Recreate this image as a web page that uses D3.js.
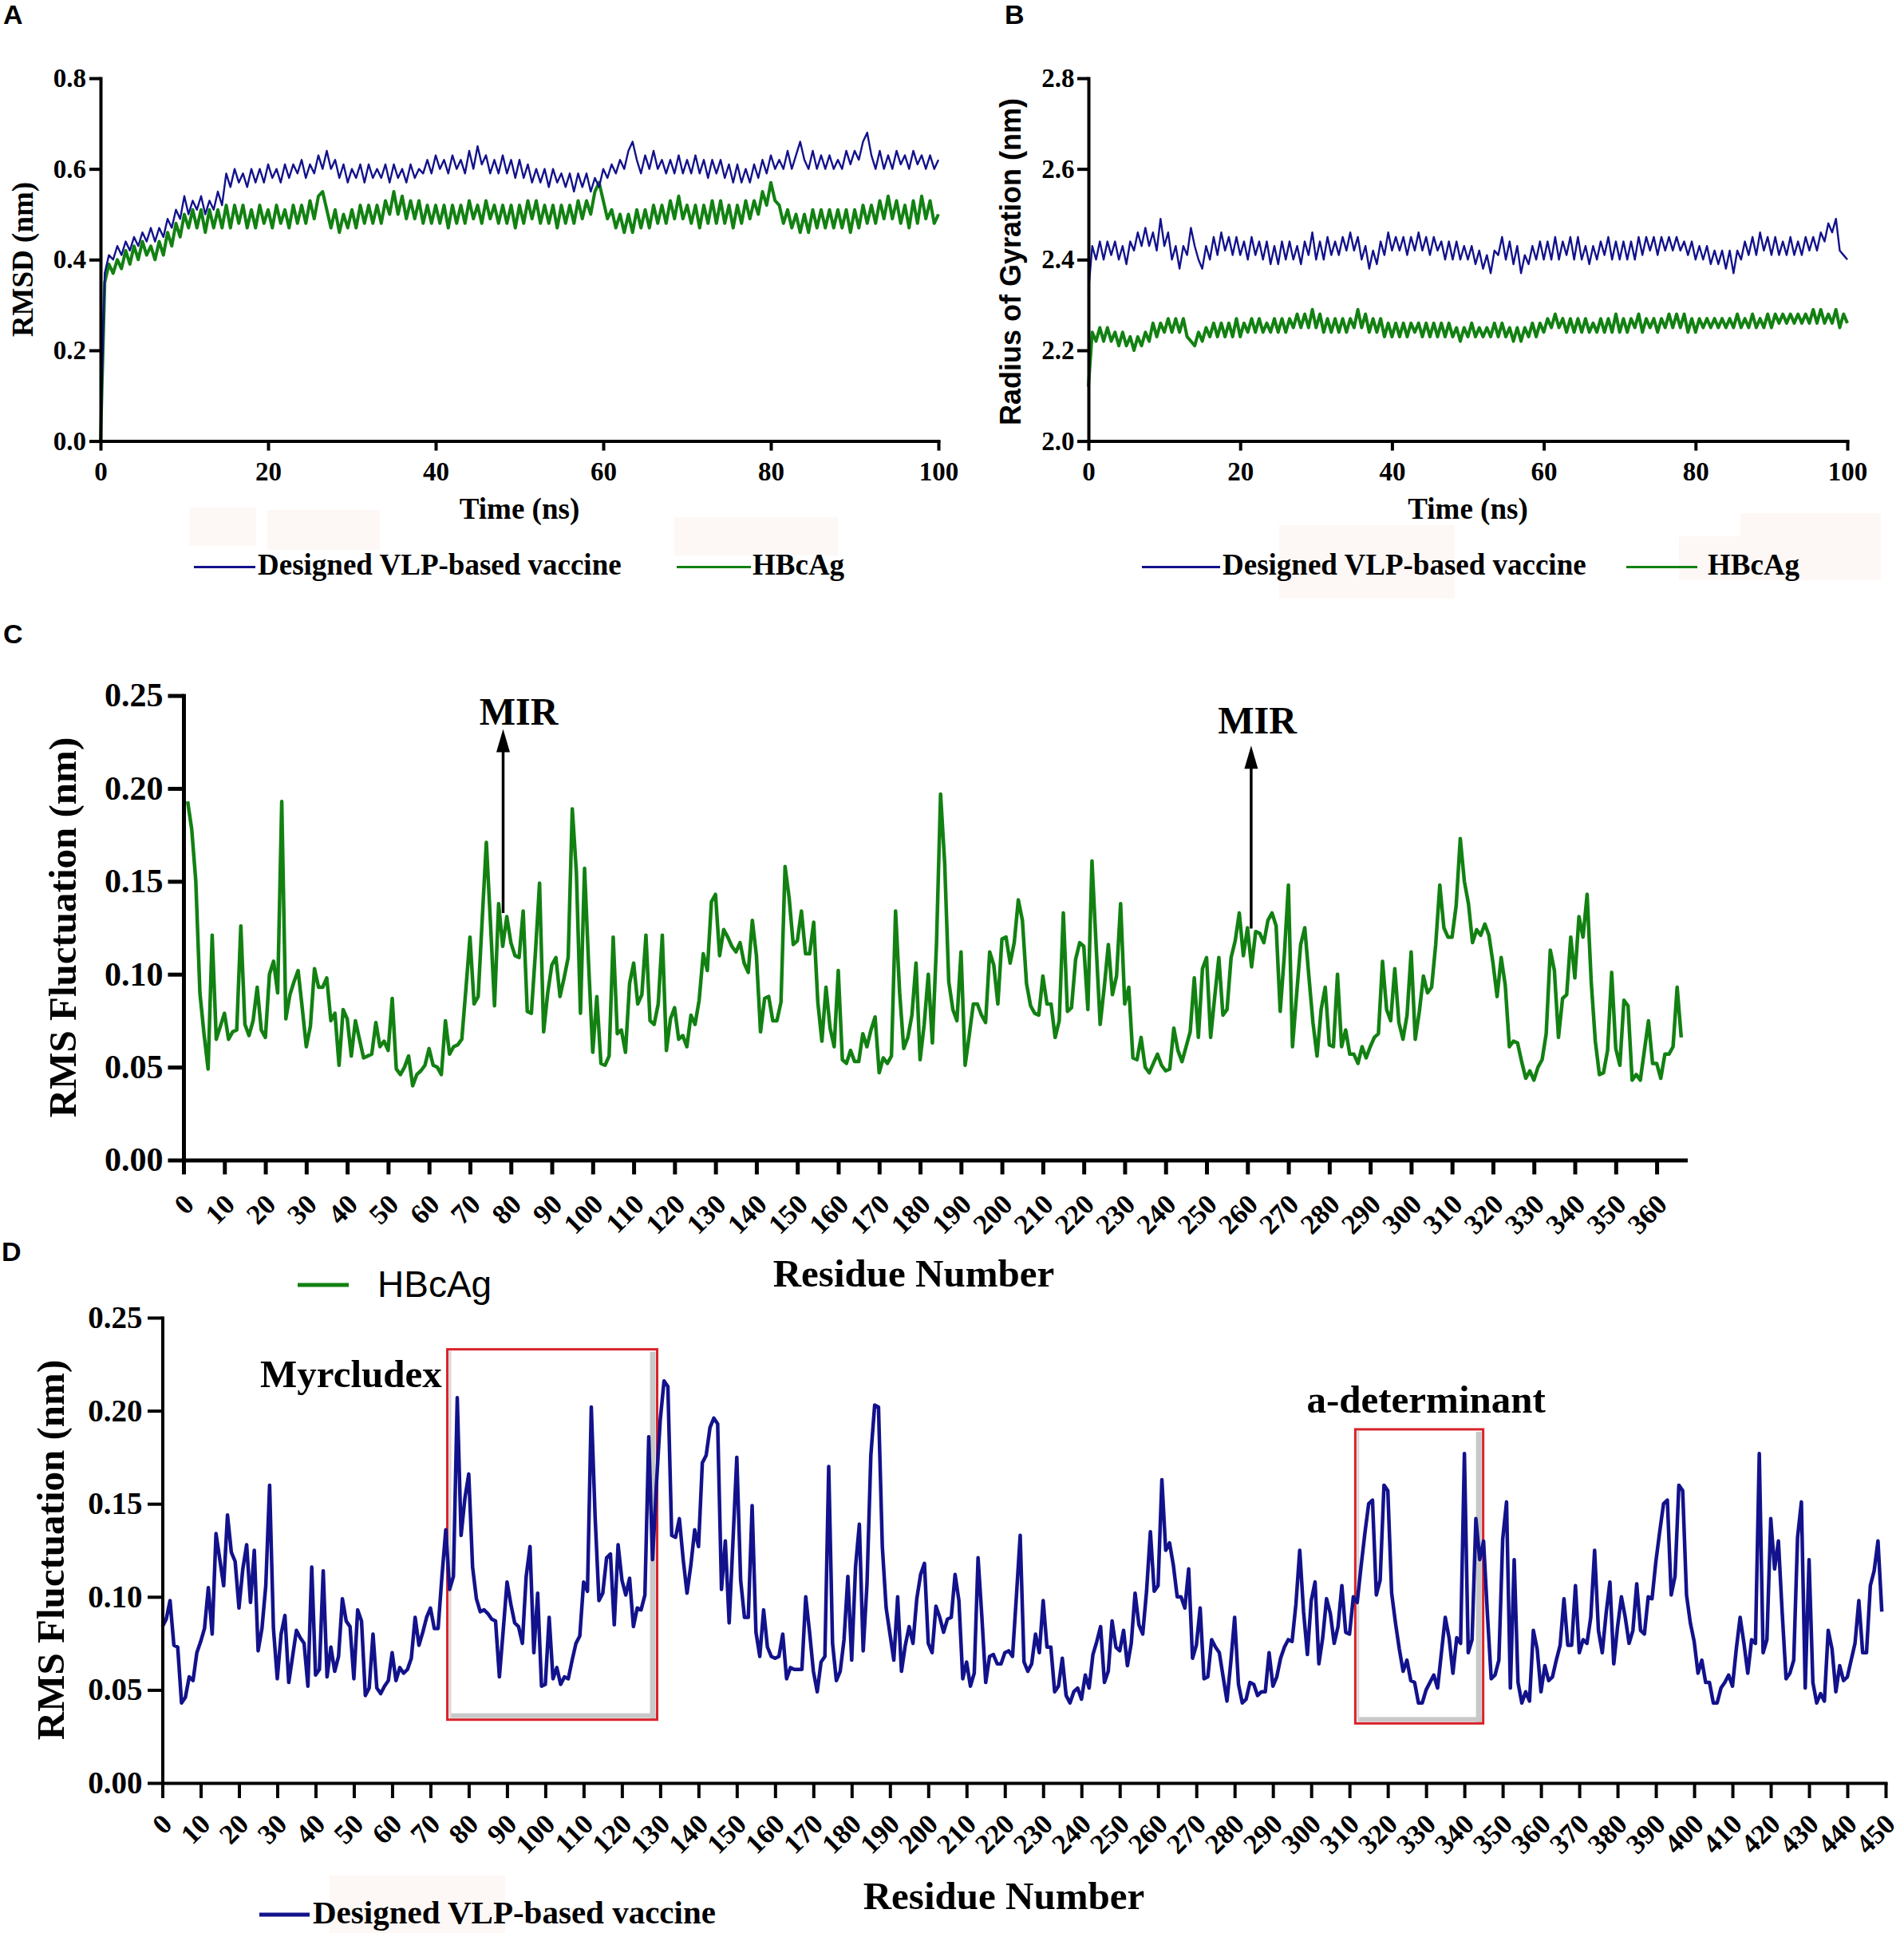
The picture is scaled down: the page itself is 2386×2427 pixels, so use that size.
<!DOCTYPE html>
<html><head><meta charset="utf-8">
<script src="https://cdn.jsdelivr.net/npm/d3@7"></script>
<style>html,body{margin:0;padding:0;background:#fff}svg{display:block}</style>
</head><body>
<svg id="fig" width="2386" height="2427"></svg>
<script>
// ---------------- DATA ----------------
const TIME_STEP_NS = 0.5; // sampling of the values read below (t = 0 ... 100 ns)
const timeTicks = [0, 20, 40, 60, 80, 100];
const rmsdTicks = [0.0, 0.2, 0.4, 0.6, 0.8];
const rgTicks = [2.0, 2.2, 2.4, 2.6, 2.8];
const rmsfTicks = [0.00, 0.05, 0.10, 0.15, 0.20, 0.25];
const residueTicksC = [0,10,20,30,40,50,60,70,80,90,100,110,120,130,140,150,160,170,180,190,200,210,220,230,240,250,260,270,280,290,300,310,320,330,340,350,360];
const residueTicksD = [0,10,20,30,40,50,60,70,80,90,100,110,120,130,140,150,160,170,180,190,200,210,220,230,240,250,260,270,280,290,300,310,320,330,340,350,360,370,380,390,400,410,420,430,440,450];
const seriesNames = ["Designed VLP-based vaccine", "HBcAg"];

const rmsdVaccine = [
0.00,0.37,0.41,0.40,0.43,0.41,0.44,0.42,0.45,0.43,
0.46,0.44,0.47,0.44,0.47,0.45,0.49,0.47,0.51,0.49,
0.54,0.50,0.53,0.51,0.54,0.50,0.53,0.51,0.55,0.52,
0.59,0.56,0.60,0.57,0.59,0.56,0.60,0.57,0.60,0.57,
0.61,0.58,0.60,0.57,0.61,0.58,0.61,0.59,0.62,0.58,
0.61,0.59,0.63,0.60,0.64,0.60,0.62,0.58,0.61,0.57,
0.60,0.58,0.61,0.57,0.61,0.58,0.60,0.58,0.61,0.57,
0.61,0.58,0.60,0.57,0.61,0.58,0.60,0.59,0.62,0.59,
0.63,0.60,0.62,0.59,0.63,0.60,0.62,0.59,0.64,0.60,
0.65,0.61,0.63,0.59,0.62,0.59,0.63,0.59,0.62,0.58,
0.62,0.58,0.61,0.57,0.60,0.57,0.60,0.56,0.60,0.57,
0.59,0.56,0.59,0.55,0.59,0.56,0.59,0.55,0.58,0.56,
0.60,0.58,0.61,0.59,0.62,0.60,0.64,0.66,0.62,0.59,
0.63,0.60,0.64,0.60,0.62,0.59,0.62,0.59,0.63,0.59,
0.62,0.59,0.63,0.59,0.62,0.58,0.62,0.59,0.62,0.58,
0.61,0.57,0.61,0.57,0.60,0.57,0.61,0.58,0.62,0.59,
0.63,0.60,0.62,0.60,0.64,0.60,0.63,0.66,0.62,0.60,
0.64,0.60,0.63,0.60,0.63,0.60,0.62,0.60,0.64,0.61,
0.64,0.62,0.66,0.68,0.63,0.60,0.64,0.60,0.63,0.60,
0.64,0.61,0.63,0.60,0.64,0.61,0.63,0.60,0.63,0.60,
0.62];

const rmsdHBcAg = [
0.00,0.35,0.39,0.37,0.40,0.38,0.42,0.39,0.43,0.40,
0.44,0.41,0.43,0.40,0.44,0.41,0.46,0.43,0.48,0.45,
0.50,0.47,0.51,0.47,0.51,0.46,0.51,0.47,0.51,0.47,
0.52,0.47,0.52,0.48,0.52,0.47,0.51,0.47,0.52,0.48,
0.51,0.47,0.52,0.48,0.51,0.47,0.52,0.48,0.52,0.48,
0.53,0.49,0.54,0.55,0.51,0.47,0.51,0.46,0.50,0.47,
0.51,0.47,0.52,0.48,0.52,0.48,0.52,0.48,0.53,0.50,
0.55,0.50,0.54,0.49,0.53,0.49,0.53,0.48,0.52,0.48,
0.52,0.48,0.52,0.47,0.52,0.48,0.52,0.48,0.53,0.49,
0.52,0.48,0.53,0.49,0.52,0.48,0.52,0.48,0.52,0.47,
0.52,0.48,0.53,0.49,0.53,0.48,0.52,0.48,0.52,0.47,
0.52,0.48,0.52,0.48,0.53,0.49,0.53,0.50,0.55,0.57,
0.53,0.49,0.51,0.47,0.50,0.46,0.50,0.46,0.51,0.47,
0.51,0.47,0.52,0.48,0.52,0.48,0.53,0.49,0.54,0.49,
0.52,0.48,0.52,0.47,0.52,0.48,0.53,0.48,0.53,0.48,
0.52,0.47,0.52,0.48,0.53,0.49,0.53,0.50,0.55,0.52,
0.57,0.53,0.52,0.48,0.51,0.47,0.50,0.46,0.50,0.46,
0.51,0.47,0.51,0.47,0.51,0.47,0.51,0.47,0.51,0.46,
0.51,0.47,0.52,0.48,0.52,0.48,0.53,0.49,0.54,0.49,
0.53,0.48,0.52,0.47,0.53,0.48,0.54,0.49,0.53,0.48,
0.50];

const rgVaccine = [
2.33,2.43,2.40,2.44,2.40,2.44,2.41,2.44,2.40,2.43,
2.39,2.44,2.42,2.46,2.43,2.47,2.43,2.46,2.42,2.49,
2.43,2.46,2.40,2.43,2.38,2.43,2.41,2.47,2.43,2.40,
2.38,2.43,2.40,2.45,2.41,2.46,2.42,2.45,2.41,2.45,
2.41,2.44,2.40,2.45,2.41,2.44,2.40,2.44,2.39,2.43,
2.39,2.44,2.40,2.44,2.40,2.43,2.39,2.44,2.41,2.46,
2.40,2.44,2.40,2.45,2.41,2.44,2.41,2.45,2.42,2.46,
2.42,2.45,2.40,2.43,2.38,2.42,2.39,2.44,2.41,2.46,
2.42,2.45,2.42,2.45,2.41,2.45,2.42,2.46,2.42,2.45,
2.41,2.45,2.42,2.44,2.40,2.44,2.40,2.44,2.40,2.43,
2.40,2.43,2.39,2.42,2.38,2.41,2.37,2.42,2.41,2.45,
2.40,2.44,2.39,2.43,2.37,2.41,2.39,2.43,2.40,2.44,
2.40,2.44,2.40,2.45,2.40,2.44,2.41,2.45,2.40,2.45,
2.40,2.43,2.39,2.43,2.40,2.44,2.41,2.45,2.40,2.44,
2.40,2.44,2.40,2.44,2.40,2.45,2.41,2.45,2.42,2.45,
2.41,2.45,2.42,2.45,2.42,2.45,2.42,2.44,2.41,2.44,
2.40,2.43,2.40,2.43,2.39,2.42,2.39,2.42,2.38,2.42,
2.37,2.42,2.40,2.44,2.41,2.45,2.41,2.46,2.42,2.45,
2.41,2.45,2.41,2.44,2.41,2.45,2.41,2.44,2.41,2.45,
2.42,2.45,2.42,2.46,2.44,2.48,2.46,2.49,2.42,2.41,
2.40];

const rgHBcAg = [
2.12,2.24,2.22,2.25,2.22,2.25,2.22,2.24,2.21,2.24,
2.21,2.23,2.20,2.23,2.21,2.24,2.22,2.26,2.23,2.26,
2.24,2.27,2.24,2.27,2.24,2.27,2.23,2.22,2.21,2.24,
2.22,2.25,2.23,2.26,2.23,2.26,2.23,2.26,2.23,2.27,
2.23,2.26,2.24,2.27,2.24,2.27,2.24,2.26,2.24,2.27,
2.24,2.27,2.24,2.27,2.25,2.28,2.25,2.28,2.25,2.29,
2.25,2.28,2.24,2.27,2.24,2.27,2.24,2.27,2.24,2.27,
2.25,2.29,2.25,2.28,2.24,2.27,2.24,2.27,2.23,2.26,
2.23,2.26,2.23,2.26,2.23,2.26,2.24,2.26,2.23,2.26,
2.23,2.26,2.23,2.26,2.23,2.26,2.23,2.25,2.22,2.25,
2.23,2.26,2.23,2.25,2.23,2.25,2.23,2.26,2.23,2.26,
2.23,2.25,2.22,2.25,2.22,2.25,2.23,2.26,2.23,2.26,
2.24,2.27,2.25,2.28,2.25,2.27,2.24,2.27,2.24,2.27,
2.24,2.27,2.24,2.26,2.24,2.27,2.24,2.27,2.24,2.28,
2.24,2.27,2.24,2.27,2.25,2.28,2.24,2.27,2.25,2.27,
2.24,2.27,2.25,2.28,2.25,2.28,2.25,2.28,2.24,2.27,
2.24,2.27,2.25,2.27,2.25,2.27,2.25,2.27,2.25,2.27,
2.25,2.28,2.25,2.27,2.25,2.28,2.25,2.27,2.25,2.28,
2.25,2.28,2.26,2.28,2.26,2.28,2.26,2.28,2.26,2.28,
2.26,2.29,2.26,2.29,2.26,2.28,2.26,2.29,2.25,2.28,
2.26];

const RMSF_HBCAG_FIRST_RESIDUE = 1;
const rmsfHBcAg = [
0.193,0.178,0.150,0.090,0.068,0.049,0.121,0.065,0.072,0.079,
0.065,0.069,0.070,0.126,0.073,0.067,0.075,0.093,0.070,0.066,
0.100,0.107,0.090,0.193,0.076,0.089,0.096,0.102,0.082,0.061,
0.072,0.103,0.093,0.093,0.098,0.075,0.079,0.051,0.081,0.076,
0.056,0.075,0.065,0.055,0.056,0.057,0.074,0.061,0.064,0.059,
0.087,0.049,0.046,0.050,0.056,0.040,0.046,0.048,0.051,0.060,
0.051,0.050,0.046,0.075,0.057,0.061,0.062,0.065,0.092,0.120,
0.084,0.088,0.130,0.171,0.128,0.083,0.138,0.115,0.131,0.117,
0.110,0.109,0.134,0.080,0.079,0.112,0.149,0.069,0.090,0.105,
0.109,0.088,0.098,0.109,0.189,0.155,0.079,0.157,0.105,0.058,
0.088,0.052,0.051,0.056,0.120,0.068,0.070,0.058,0.095,0.106,
0.084,0.089,0.121,0.075,0.073,0.084,0.121,0.059,0.076,0.082,
0.065,0.067,0.061,0.078,0.073,0.086,0.111,0.102,0.139,0.143,
0.110,0.124,0.120,0.115,0.112,0.117,0.106,0.101,0.129,0.110,
0.069,0.087,0.088,0.075,0.075,0.085,0.158,0.141,0.116,0.118,
0.134,0.111,0.111,0.128,0.085,0.064,0.093,0.071,0.061,0.102,
0.054,0.052,0.059,0.053,0.053,0.068,0.061,0.070,0.077,0.047,
0.055,0.052,0.056,0.134,0.090,0.060,0.066,0.078,0.106,0.054,
0.073,0.100,0.063,0.116,0.197,0.160,0.096,0.081,0.075,0.112,
0.051,0.067,0.084,0.084,0.078,0.074,0.112,0.105,0.084,0.119,
0.120,0.106,0.117,0.140,0.129,0.095,0.083,0.079,0.078,0.099,
0.084,0.084,0.066,0.075,0.133,0.080,0.082,0.108,0.117,0.115,
0.081,0.161,0.116,0.073,0.093,0.116,0.089,0.099,0.138,0.084,
0.093,0.055,0.054,0.066,0.050,0.047,0.052,0.057,0.051,0.048,
0.049,0.071,0.059,0.053,0.061,0.069,0.098,0.066,0.103,0.109,
0.066,0.088,0.109,0.078,0.081,0.109,0.118,0.133,0.110,0.125,
0.104,0.123,0.122,0.117,0.129,0.133,0.126,0.080,0.110,0.148,
0.061,0.089,0.116,0.125,0.099,0.074,0.056,0.081,0.093,0.062,
0.061,0.100,0.061,0.070,0.057,0.057,0.052,0.061,0.055,0.061,
0.066,0.068,0.107,0.081,0.075,0.103,0.074,0.065,0.078,0.112,
0.065,0.080,0.099,0.090,0.093,0.116,0.148,0.125,0.120,0.120,
0.137,0.173,0.150,0.138,0.117,0.124,0.121,0.127,0.121,0.106,
0.088,0.109,0.094,0.061,0.064,0.063,0.053,0.044,0.048,0.043,
0.050,0.054,0.068,0.113,0.102,0.066,0.087,0.089,0.120,0.098,
0.131,0.120,0.143,0.096,0.064,0.046,0.047,0.059,0.101,0.060,
0.051,0.086,0.083,0.043,0.046,0.043,0.059,0.075,0.052,0.052,
0.044,0.057,0.057,0.061,0.093,0.066];

const RMSF_VACCINE_FIRST_RESIDUE = 0;
const rmsfVaccine = [
0.084,0.088,0.098,0.074,0.073,0.043,0.046,0.057,0.055,0.070,
0.076,0.083,0.105,0.080,0.134,0.120,0.106,0.144,0.124,0.119,
0.094,0.115,0.128,0.097,0.125,0.071,0.083,0.106,0.160,0.083,
0.056,0.080,0.090,0.054,0.068,0.082,0.078,0.075,0.052,0.116,
0.058,0.061,0.114,0.057,0.073,0.060,0.068,0.099,0.087,0.084,
0.056,0.093,0.087,0.047,0.051,0.080,0.051,0.048,0.052,0.055,
0.070,0.055,0.062,0.059,0.061,0.067,0.089,0.074,0.081,0.089,
0.094,0.083,0.083,0.111,0.136,0.104,0.111,0.207,0.133,0.153,
0.166,0.116,0.099,0.092,0.093,0.091,0.088,0.087,0.057,0.082,
0.108,0.096,0.086,0.084,0.075,0.111,0.127,0.070,0.102,0.052,
0.053,0.089,0.056,0.062,0.053,0.057,0.056,0.066,0.075,0.079,
0.108,0.103,0.202,0.143,0.098,0.102,0.121,0.123,0.085,0.128,
0.109,0.101,0.110,0.084,0.094,0.093,0.101,0.186,0.120,0.160,
0.195,0.216,0.213,0.133,0.132,0.142,0.120,0.102,0.117,0.136,
0.127,0.172,0.176,0.191,0.196,0.193,0.104,0.130,0.086,0.130,
0.175,0.109,0.089,0.089,0.149,0.081,0.068,0.093,0.073,0.068,
0.067,0.068,0.080,0.056,0.062,0.061,0.061,0.061,0.100,0.081,
0.060,0.049,0.065,0.068,0.170,0.075,0.055,0.060,0.077,0.111,
0.066,0.116,0.139,0.071,0.107,0.176,0.203,0.202,0.127,0.094,
0.080,0.066,0.100,0.060,0.074,0.084,0.075,0.099,0.112,0.118,
0.075,0.070,0.095,0.089,0.081,0.088,0.089,0.112,0.098,0.056,
0.065,0.052,0.059,0.121,0.089,0.054,0.068,0.069,0.064,0.064,
0.070,0.071,0.068,0.100,0.133,0.065,0.060,0.064,0.080,0.070,
0.098,0.073,0.073,0.049,0.052,0.067,0.047,0.043,0.049,0.051,
0.045,0.058,0.051,0.069,0.076,0.084,0.054,0.060,0.087,0.073,
0.071,0.082,0.063,0.075,0.102,0.085,0.080,0.103,0.135,0.103,
0.106,0.163,0.125,0.129,0.117,0.100,0.100,0.094,0.115,0.067,
0.074,0.094,0.056,0.057,0.077,0.073,0.070,0.057,0.044,0.065,
0.089,0.053,0.043,0.045,0.054,0.053,0.047,0.049,0.049,0.070,
0.052,0.057,0.067,0.073,0.077,0.076,0.096,0.125,0.092,0.069,
0.098,0.108,0.064,0.078,0.099,0.091,0.075,0.084,0.106,0.081,
0.080,0.100,0.097,0.116,0.134,0.150,0.152,0.101,0.109,0.160,
0.157,0.102,0.086,0.072,0.060,0.066,0.055,0.054,0.043,0.043,
0.050,0.054,0.058,0.051,0.070,0.089,0.078,0.059,0.078,0.075,
0.177,0.070,0.077,0.142,0.120,0.130,0.091,0.056,0.058,0.066,
0.131,0.151,0.051,0.120,0.054,0.043,0.049,0.044,0.082,0.072,
0.049,0.063,0.055,0.057,0.066,0.074,0.099,0.074,0.074,0.106,
0.070,0.077,0.075,0.089,0.125,0.082,0.070,0.091,0.108,0.064,
0.084,0.100,0.089,0.075,0.082,0.107,0.082,0.080,0.100,0.099,
0.119,0.135,0.150,0.152,0.101,0.111,0.160,0.157,0.101,0.086,
0.076,0.059,0.066,0.054,0.054,0.043,0.043,0.051,0.054,0.058,
0.052,0.072,0.089,0.075,0.059,0.077,0.075,0.177,0.070,0.077,
0.142,0.115,0.130,0.091,0.056,0.059,0.066,0.132,0.151,0.051,
0.120,0.054,0.043,0.048,0.044,0.082,0.072,0.049,0.063,0.055,
0.057,0.066,0.075,0.098,0.070,0.070,0.106,0.114,0.130,0.092];

// annotations (in data units: residue / nm)
const mirArrows = [
  {residue: 78.1, from: 0.133, to: 0.232, textResidue: 81.9, textValue: 0.2345, label: "MIR"},
  {residue: 260.9, from: 0.1246, to: 0.223, textResidue: 262.4, textValue: 0.2295, label: "MIR"}
];
const regionBoxes = [
  {label: "Myrcludex", start: 74.4, end: 129.2, low: 0.034, high: 0.233, textResidue: 73.0, textValue: 0.2125, anchor: "end"},
  {label: "a-determinant", start: 311.5, end: 344.9, low: 0.032, high: 0.190, textResidue: 330, textValue: 0.199, anchor: "middle"}
];

// ---------------- STYLE ----------------
const SERIF = "'Liberation Serif','Times New Roman',Times,serif";
const SANS = "'Liberation Sans',Arial,Helvetica,sans-serif";
const NAVY = "#12128c";
const GREEN = "#128112";
const svg = d3.select("#fig");
svg.append("rect").attr("width", 2386).attr("height", 2427).attr("fill", "#fff");

// faint background patches seen in the original figure
const patches = [[237,636,84,48],[335,639,141,50],[845,648,205,48],[1603,658,220,92],[2104,672,253,55],[2181,643,176,30],[413,2350,220,72]];
svg.append("g").selectAll("rect").data(patches).join("rect")
  .attr("x", d => d[0]).attr("y", d => d[1]).attr("width", d => d[2]).attr("height", d => d[3])
  .attr("fill", "#fdf8f6");

function styleAxis(g, width, fontSize, family) {
  g.select(".domain").attr("stroke", "#000").attr("stroke-width", width).attr("stroke-linecap", "square");
  g.selectAll(".tick line").attr("stroke", "#000").attr("stroke-width", width);
  g.selectAll(".tick text").attr("fill", "#000").attr("font-family", family).attr("font-weight", "bold").attr("font-size", fontSize);
  g.attr("font-family", null).attr("font-size", null);
}

function text(x, y, s, size, opts = {}) {
  const t = svg.append("text").attr("x", x).attr("y", y).text(s)
    .attr("font-family", opts.family || SERIF).attr("font-size", size)
    .attr("font-weight", opts.weight || "bold").attr("fill", "#000")
    .attr("text-anchor", opts.anchor || "start");
  if (opts.rotate) t.attr("transform", `rotate(${opts.rotate},${x},${y})`);
  return t;
}

// ---------------- PANEL A / B ----------------
function timePanel(cfg) {
  const x = d3.scaleLinear([0, 100], [cfg.x0, cfg.x1]);
  const y = d3.scaleLinear(cfg.yDomain, [552.6, 98]);
  const line = d3.line().x((d, i) => x(i * TIME_STEP_NS)).y(d => y(d));
  svg.append("path").datum(cfg.green).attr("d", line).attr("fill", "none")
    .attr("stroke", GREEN).attr("stroke-width", 4).attr("stroke-linejoin", "round");
  svg.append("path").datum(cfg.blue).attr("d", line).attr("fill", "none")
    .attr("stroke", NAVY).attr("stroke-width", 2.4).attr("stroke-linejoin", "round");
  const gx = svg.append("g").attr("transform", `translate(0,552.6)`)
    .call(d3.axisBottom(x).tickValues(timeTicks).tickSize(12).tickPadding(14).tickSizeOuter(0).tickFormat(d3.format("d")));
  styleAxis(gx, 4, 33, SERIF);
  const gy = svg.append("g").attr("transform", `translate(${cfg.x0},0)`)
    .call(d3.axisLeft(y).tickValues(cfg.yTicks).tickSize(14).tickPadding(cfg.yPad).tickSizeOuter(0).tickFormat(d3.format(".1f")));
  styleAxis(gy, 4, 33, SERIF);
  text((cfg.x0 + cfg.x1) / 2, 650, "Time (ns)", 37, {anchor: "middle"});
  // legend
  const L = cfg.legend;
  svg.append("line").attr("x1", L.b0).attr("x2", L.b1).attr("y1", 710.5).attr("y2", 710.5).attr("stroke", NAVY).attr("stroke-width", 3);
  text(L.b1 + 3, 720, seriesNames[0], 37);
  svg.append("line").attr("x1", L.g0).attr("x2", L.g1).attr("y1", 710.5).attr("y2", 710.5).attr("stroke", GREEN).attr("stroke-width", 3);
  text(L.gt, 720, seriesNames[1], 37);
}

timePanel({x0: 126, x1: 1176, yDomain: [0, 0.8], yTicks: rmsdTicks, yPad: 4,
  blue: rmsdVaccine, green: rmsdHBcAg,
  legend: {b0: 243, b1: 320, g0: 848, g1: 941, gt: 943}});
text(41, 325, "RMSD (nm)", 37, {anchor: "middle", rotate: -90});

timePanel({x0: 1364, x1: 2315, yDomain: [2.0, 2.8], yTicks: rgTicks, yPad: 3.5,
  blue: rgVaccine, green: rgHBcAg,
  legend: {b0: 1431, b1: 1529, g0: 2038, g1: 2127, gt: 2140}});
text(1279, 328, "Radius of Gyration (nm)", 36, {anchor: "middle", rotate: -90, family: SANS});

// panel letters
text(4, 30, "A", 34, {family: SANS});
text(1259, 30, "B", 34, {family: SANS});
text(4, 806, "C", 34, {family: SANS});
text(2, 1580, "D", 34, {family: SANS});

// ---------------- PANEL C ----------------
const xC = d3.scaleLinear([0, 367], [230, 230 + 367 * 5.128]);
const yC = d3.scaleLinear([0, 0.25], [1453.5, 871.5]);
svg.append("path").datum(rmsfHBcAg)
  .attr("d", d3.line().x((d, i) => xC(i + RMSF_HBCAG_FIRST_RESIDUE)).y(d => yC(d)))
  .attr("fill", "none").attr("stroke", GREEN).attr("stroke-width", 4.5).attr("stroke-linejoin", "round");
const gxC = svg.append("g").attr("transform", `translate(0,${yC(0)})`)
  .call(d3.axisBottom(xC).tickValues(residueTicksC).tickSize(18).tickSizeOuter(0).tickFormat(d3.format("d")));
styleAxis(gxC, 5, 35, SERIF);
gxC.selectAll(".tick text").attr("x", 0).attr("y", 0).attr("dy", "0.35em").attr("text-anchor", "end")
  .attr("transform", "translate(6,49) rotate(-45)");
const gyC = svg.append("g").attr("transform", `translate(${xC(0)},0)`)
  .call(d3.axisLeft(yC).tickValues(rmsfTicks).tickSize(19.5).tickPadding(6).tickSizeOuter(0).tickFormat(d3.format(".2f")));
styleAxis(gyC, 5, 42, SERIF);
text(95, 1162, "RMS Fluctuation (nm)", 49, {anchor: "middle", rotate: -90});
text(1145, 1612, "Residue Number", 49, {anchor: "middle"});

// MIR arrows
mirArrows.forEach(a => {
  const ax = xC(a.residue), yTip = yC(a.to), yBot = yC(a.from);
  svg.append("line").attr("x1", ax).attr("x2", ax).attr("y1", yBot).attr("y2", yTip + 20)
    .attr("stroke", "#000").attr("stroke-width", 3.5);
  svg.append("path").attr("d", `M${ax},${yTip} L${ax - 8.5},${yTip + 29} L${ax + 8.5},${yTip + 29} Z`).attr("fill", "#000");
  text(xC(a.textResidue), yC(a.textValue), a.label, 48, {anchor: "middle"});
});

// HBcAg legend for C
svg.append("line").attr("x1", 373).attr("x2", 437).attr("y1", 1610).attr("y2", 1610).attr("stroke", GREEN).attr("stroke-width", 5);
text(473, 1625, seriesNames[1], 46, {family: SANS, weight: "normal"});

// ---------------- PANEL D ----------------
const xD = d3.scaleLinear([0, 450], [203.5, 2363]);
const yD = d3.scaleLinear([0, 0.25], [2234, 1651]);

// region boxes
regionBoxes.forEach(b => {
  const x0 = xD(b.start), x1 = xD(b.end), y0 = yD(b.high), y1 = yD(b.low);
  svg.append("rect").attr("x", x1 - 9).attr("y", y0 + 3).attr("width", 7).attr("height", y1 - y0 - 4).attr("fill", "#c8c8c8");
  svg.append("rect").attr("x", x0 + 3).attr("y", y1 - 8).attr("width", x1 - x0 - 5).attr("height", 6).attr("fill", "#c8c8c8");
  svg.append("rect").attr("x", x0 + 2).attr("y", y0 + 2).attr("width", 3).attr("height", y1 - y0 - 4).attr("fill", "#d8d8d8");
  svg.append("rect").attr("x", x0).attr("y", y0).attr("width", x1 - x0).attr("height", y1 - y0)
    .attr("fill", "none").attr("stroke", "#d8232a").attr("stroke-width", 3);
  text(xD(b.textResidue), yD(b.textValue), b.label, 49, {anchor: b.anchor});
});

svg.append("path").datum(rmsfVaccine)
  .attr("d", d3.line().x((d, i) => xD(i + RMSF_VACCINE_FIRST_RESIDUE)).y(d => yD(d)))
  .attr("fill", "none").attr("stroke", NAVY).attr("stroke-width", 4.5).attr("stroke-linejoin", "round");
const gxD = svg.append("g").attr("transform", `translate(0,${yD(0)})`)
  .call(d3.axisBottom(xD).tickValues(residueTicksD).tickSize(19).tickSizeOuter(0).tickFormat(d3.format("d")));
styleAxis(gxD, 4, 35, SERIF);
gxD.selectAll(".tick text").attr("x", 0).attr("y", 0).attr("dy", "0.35em").attr("text-anchor", "end")
  .attr("transform", "translate(5,45) rotate(-45)");
const gyD = svg.append("g").attr("transform", `translate(${xD(0)},0)`)
  .call(d3.axisLeft(yD).tickValues(rmsfTicks).tickSize(18.5).tickPadding(6.5).tickSizeOuter(0).tickFormat(d3.format(".2f")));
styleAxis(gyD, 4, 39, SERIF);
text(80, 1942, "RMS Fluctuation (nm)", 49, {anchor: "middle", rotate: -90});
text(1258, 2392, "Residue Number", 49, {anchor: "middle"});

// D legend
svg.append("line").attr("x1", 325).attr("x2", 388).attr("y1", 2399).attr("y2", 2399).attr("stroke", NAVY).attr("stroke-width", 5);
text(392, 2410, seriesNames[0], 41);
</script>
</body></html>
